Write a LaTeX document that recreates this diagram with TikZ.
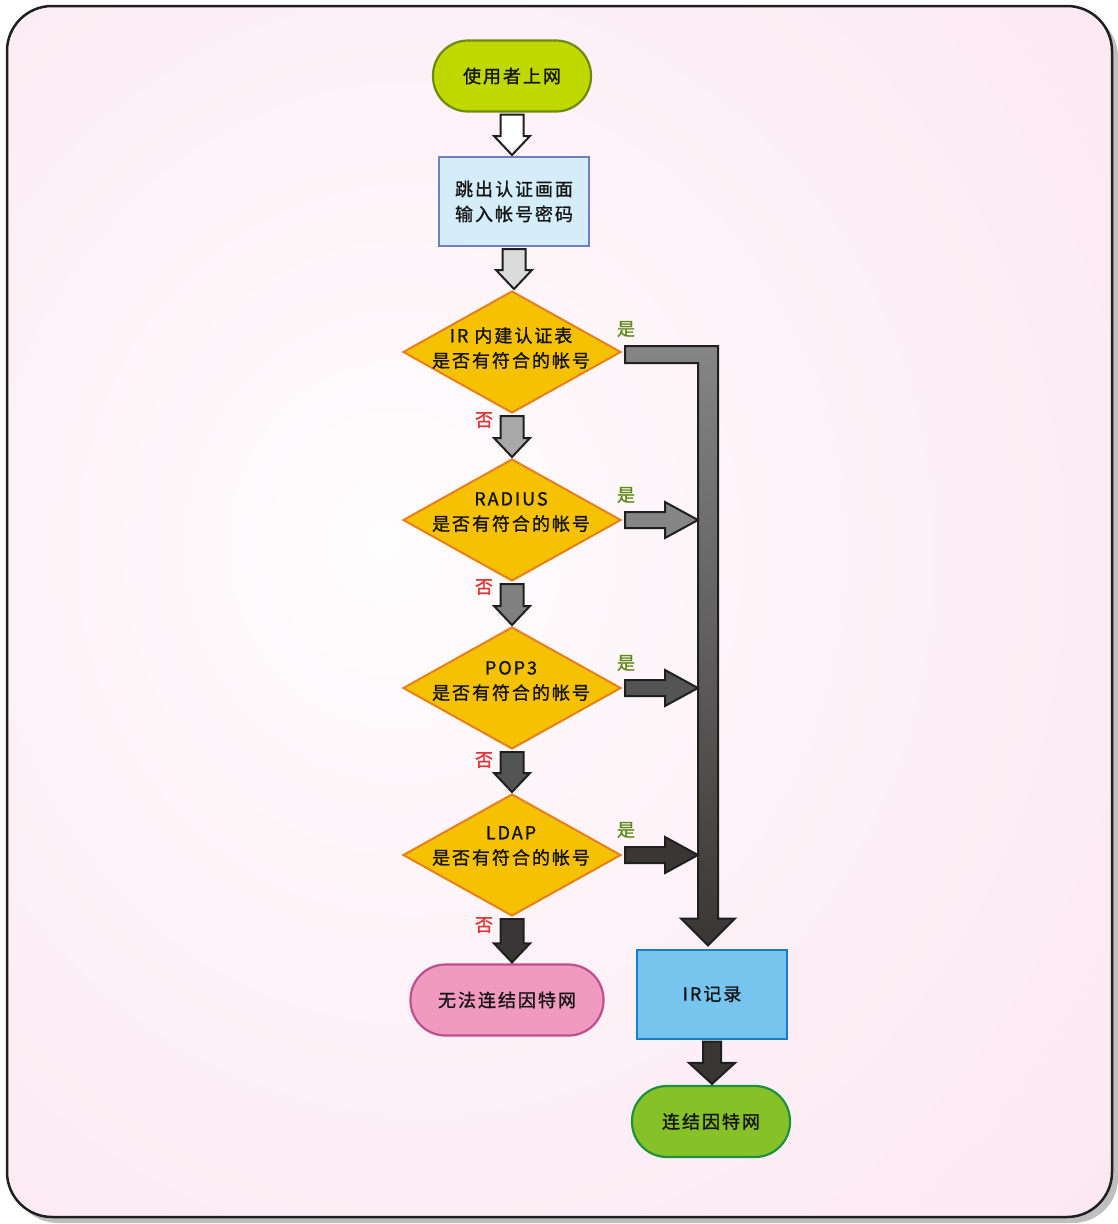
\documentclass[tikz,border=0pt]{standalone}
\usepackage{fontspec}
\newfontfamily\cjk[LetterSpace=11,FakeBold=1.2]{Noto Sans CJK SC}
\usetikzlibrary{shapes.geometric,calc}

\definecolor{bginner}{HTML}{FFFDFE}
\definecolor{bgmid}{HTML}{FDF0F6}
\definecolor{bgouter}{HTML}{FBE4EE}
\definecolor{startfill}{HTML}{BED800}
\definecolor{startdraw}{HTML}{6F8A10}
\definecolor{boxfill}{HTML}{D5EDF9}
\definecolor{boxdraw}{HTML}{6F7FBF}
\definecolor{diafill}{HTML}{F6C100}
\definecolor{diadraw}{HTML}{E97F1C}
\definecolor{failfill}{HTML}{F19AC0}
\definecolor{faildraw}{HTML}{BF4E8E}
\definecolor{irfill}{HTML}{77C5EF}
\definecolor{irdraw}{HTML}{1B7DC5}
\definecolor{okfill}{HTML}{86C127}
\definecolor{okdraw}{HTML}{1E9140}
\definecolor{yescol}{HTML}{5F8A1A}
\definecolor{nocol}{HTML}{E03535}
\definecolor{bigtop}{HTML}{858585}
\definecolor{bigbot}{HTML}{3A3636}

\pgfdeclareradialshading{bgshade}{\pgfpoint{-8bp}{3bp}}{%
  color(0bp)=(bginner); color(22bp)=(bgmid); color(48bp)=(bgouter); color(100bp)=(bgouter)}

% down block arrow: from, to, fill, shaft half, head half, head length
\newcommand{\blockdown}[6]{%
  \draw[blockarr,fill=#3] let \p1=($(#1.south)+(0,2)$), \p2=($(#2.north)+(0,-1)$) in
    (\x1-#4pt,\y1) -- (\x1+#4pt,\y1) -- (\x1+#4pt,\y2+#6pt) -- (\x1+#5pt,\y2+#6pt)
    -- (\x1,\y2) -- (\x1-#5pt,\y2+#6pt) -- (\x1-#4pt,\y2+#6pt) -- cycle;}
% right block arrow into the bus: from, fill
\newcommand{\blockright}[2]{%
  \draw[blockarr,fill=#2] let \p1=($(#1.east)+(3,0)$), \p2=(bus) in
    (\x1,\y1+8pt) -- (\x2-43pt,\y1+8pt) -- (\x2-43pt,\y1+18pt) -- (\x2-10pt,\y1)
    -- (\x2-43pt,\y1-18pt) -- (\x2-43pt,\y1-8pt) -- (\x1,\y1-8pt) -- cycle;}

\begin{document}
\begin{tikzpicture}[x=1pt,y=-1pt,
    txt/.style={font=\cjk\fontsize{18}{25}\selectfont, align=center, text=black!92},
    term/.style={rectangle, rounded corners=35pt, minimum width=158pt, minimum height=71pt, line width=2.2pt},
    proc/.style={rectangle, minimum width=150pt, minimum height=89pt, line width=2pt},
    dec/.style={diamond, minimum width=218pt, minimum height=122pt, inner sep=0pt,
      line width=2pt, draw=diadraw, fill=diafill},
    blockarr/.style={draw=black!88, line width=2pt, line join=miter},
    yeslbl/.style={font=\cjk\fontsize{18}{20}\selectfont, text=yescol, inner sep=0pt},
    nolbl/.style={font=\cjk\fontsize{18}{20}\selectfont, text=nocol, inner sep=0pt}]
  \useasboundingbox (0,0) rectangle (1117,1224);
  % frame
  \fill[black!25, rounded corners=45pt] (13,12) rectangle (1118,1223);
  \path[shading=bgshade, rounded corners=45pt] (7,6) rectangle (1112,1217);
  \draw[black!88, line width=2.5pt, rounded corners=45pt] (7,6) rectangle (1112,1217);

  % main column
  \node[term, txt, draw=startdraw, fill=startfill] (start) at (512,76) {使用者上网};
  \node[proc, txt, draw=boxdraw, fill=boxfill] (login) at (514,201.5) {跳出认证画面\\输入帐号密码};
  \node[dec] (d1) at (512,352) {};
  \node[txt] (d1t) at (511,348) {IR 内建认证表\\是否有符合的帐号};
  \node[dec] (d2) at (512,520) {};
  \node[txt] (d2t) at (511,512) {RADIUS\\是否有符合的帐号};
  \node[dec] (d3) at (512,688) {};
  \node[txt] (d3t) at (511,681) {POP3\\是否有符合的帐号};
  \node[dec] (d4) at (512,855) {};
  \node[txt] (d4t) at (511,846) {LDAP\\是否有符合的帐号};
  \node[term, txt, minimum width=193pt, draw=faildraw, fill=failfill] (fail) at (507,1000) {无法连结因特网};

  % right column
  \coordinate (bus) at (708,352);
  \node[proc, txt, draw=irdraw, fill=irfill] (ir) at (712,994) {IR记录};
  \node[term, txt, draw=okdraw, fill=okfill] (ok) at (711,1121.5) {连结因特网};

  % labels
  \node[yeslbl] (y1) at (626,329) {是};
  \node[yeslbl] (y2) at (626,495) {是};
  \node[yeslbl] (y3) at (626,663) {是};
  \node[yeslbl] (y4) at (626,830) {是};
  \node[nolbl] (n1) at (484,420) {否};
  \node[nolbl] (n2) at (484,587) {否};
  \node[nolbl] (n3) at (484,760) {否};
  \node[nolbl] (n4) at (484,925) {否};

  % arrows
  \blockdown{start}{login}{white}{11.5}{18}{19}
  \blockdown{login}{d1}{black!14}{11.5}{18}{19}
  \blockdown{d1}{d2}{black!34}{11.5}{18}{19}
  \blockdown{d2}{d3}{black!50}{11.5}{18}{19}
  \blockdown{d3}{d4}{black!67}{11.5}{18}{19}
  \blockdown{d4}{fail}{bigbot}{11.5}{18}{19}
  \shadedraw[blockarr, top color=bigtop, bottom color=bigbot]
    let \p1=($(d1.east)+(3,0)$), \p2=($(ir.north)+(0,-3)$), \p3=(bus) in
    (\x1,\y1+6pt) -- (\x3+10pt,\y1+6pt) -- (\x3+10pt,\y2+27pt) -- (\x3+27pt,\y2+27pt)
    -- (\x3,\y2) -- (\x3-27pt,\y2+27pt) -- (\x3-10pt,\y2+27pt) -- (\x3-10pt,\y1-11pt)
    -- (\x1,\y1-11pt) -- cycle;
  \blockright{d2}{black!48}
  \blockright{d3}{black!67}
  \blockright{d4}{bigbot}
  \blockdown{ir}{ok}{bigbot}{9}{23}{21}
\end{tikzpicture}
\end{document}
